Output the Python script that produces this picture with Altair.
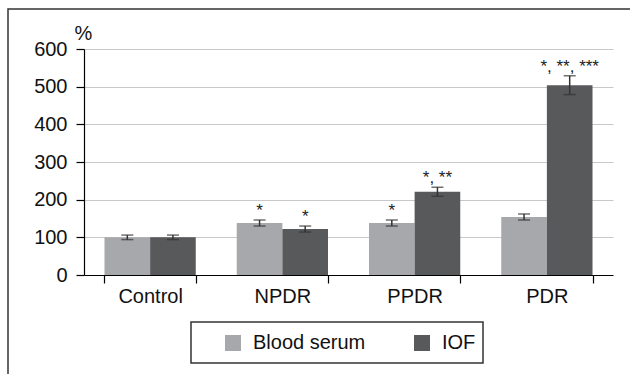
import altair as alt
import pandas as pd

categories = ["Control", "NPDR", "PPDR", "PDR"]
series = ["Blood serum", "IOF"]
serum_values = [100, 138, 138, 154]
iof_values = [100, 122, 221, 504]
serum_err = [6, 8, 8, 8]
iof_err = [6, 8, 12, 25]
serum_marks = ["", "*", "*", ""]
iof_marks = ["", "*", "*, **", "*, **, ***"]
y_ticks = [0, 100, 200, 300, 400, 500, 600]
colors = ["#a7a8ab", "#58595b"]

rows = []
for i, c in enumerate(categories):
    rows.append({"category": c, "series": series[0], "value": serum_values[i],
                 "err": serum_err[i], "mark": serum_marks[i]})
    rows.append({"category": c, "series": series[1], "value": iof_values[i],
                 "err": iof_err[i], "mark": iof_marks[i]})
df = pd.DataFrame(rows)

FONT = "Liberation Sans"

x = alt.X("category:N", sort=categories, title=None,
          scale=alt.Scale(paddingInner=0.31, paddingOuter=0.155),
          axis=alt.Axis(tickBand="extent", tickSize=8, tickColor="#000", domainColor="#000",
                        labelAngle=0, labelFontSize=20, labelFont=FONT, labelColor="#111",
                        labelPadding=3, grid=False, domainWidth=1.2, tickWidth=1.2))
xo = alt.XOffset("series:N", sort=series, scale=alt.Scale(paddingInner=0, paddingOuter=0))
yscale = alt.Scale(domain=[0, 600], nice=False)
yaxis = alt.Axis(values=y_ticks, tickSize=8, labelOverlap=False,
                 tickColor="#000", domainColor="#000", labelFontSize=20,
                 labelFont=FONT, labelColor="#111", labelPadding=9,
                 gridColor="#c8c8c8", gridWidth=1.2, domainWidth=1.2, tickWidth=1.2,
                 titleAngle=0, titleAlign="left", titleBaseline="middle",
                 titleX=-10, titleY=-16, titleFontSize=20, titleFont=FONT,
                 titleFontWeight="normal", titleColor="#111")

base = alt.Chart(df).transform_calculate(
    hi="datum.value + datum.err", lo="datum.value - datum.err"
)

bars = base.mark_bar().encode(
    x=x, xOffset=xo,
    y=alt.Y("value:Q", scale=yscale, title="%", axis=yaxis),
    color=alt.Color("series:N", sort=series,
                    scale=alt.Scale(domain=series, range=colors),
                    legend=alt.Legend(orient="none", legendX=139, legendY=284,
                                      direction="horizontal", title=None,
                                      symbolType="square", symbolSize=256,
                                      symbolStrokeWidth=0, labelFontSize=20,
                                      labelFont=FONT, labelColor="#111",
                                      labelOffset=10, columnPadding=46, padding=0)),
)

rules = base.mark_rule(color="#333", strokeWidth=1.5).encode(
    x=x, xOffset=xo, y=alt.Y("lo:Q", scale=yscale, title="%", axis=yaxis), y2="hi:Q"
)
cap_hi = base.mark_tick(color="#333", thickness=1.5, size=12).encode(
    x=x, xOffset=xo, y=alt.Y("hi:Q", scale=yscale, title="%", axis=yaxis)
)
cap_lo = base.mark_tick(color="#333", thickness=1.5, size=12).encode(
    x=x, xOffset=xo, y=alt.Y("lo:Q", scale=yscale, title="%", axis=yaxis)
)
stars = base.mark_text(font=FONT, fontSize=17, color="#222", baseline="alphabetic",
                       dy=-4).encode(
    x=x, xOffset=xo, y=alt.Y("hi:Q", scale=yscale, title="%", axis=yaxis), text="mark:N"
)

box_df = pd.DataFrame({"k": [0]})
legend_box = alt.Chart(box_df).mark_rect(fill=None, stroke="#333", strokeWidth=1.5).encode(
    x=alt.value(107), x2=alt.value(399), y=alt.value(273), y2=alt.value(314)
)
frame = alt.Chart(box_df).mark_rect(fill=None, stroke="#333", strokeWidth=1.5).encode(
    x=alt.value(-76), x2=alt.value(620), y=alt.value(-40), y2=alt.value(400)
)

chart = alt.layer(bars, rules, cap_hi, cap_lo, stars, legend_box, frame).properties(
    width=529, height=226,
    padding={"left": 84, "top": 49, "right": 17, "bottom": 99},
    autosize=alt.AutoSizeParams(type="none"),
    background="white",
).configure_view(stroke=None)

chart.save("out.html", embed_options={"renderer": "svg", "actions": False})
